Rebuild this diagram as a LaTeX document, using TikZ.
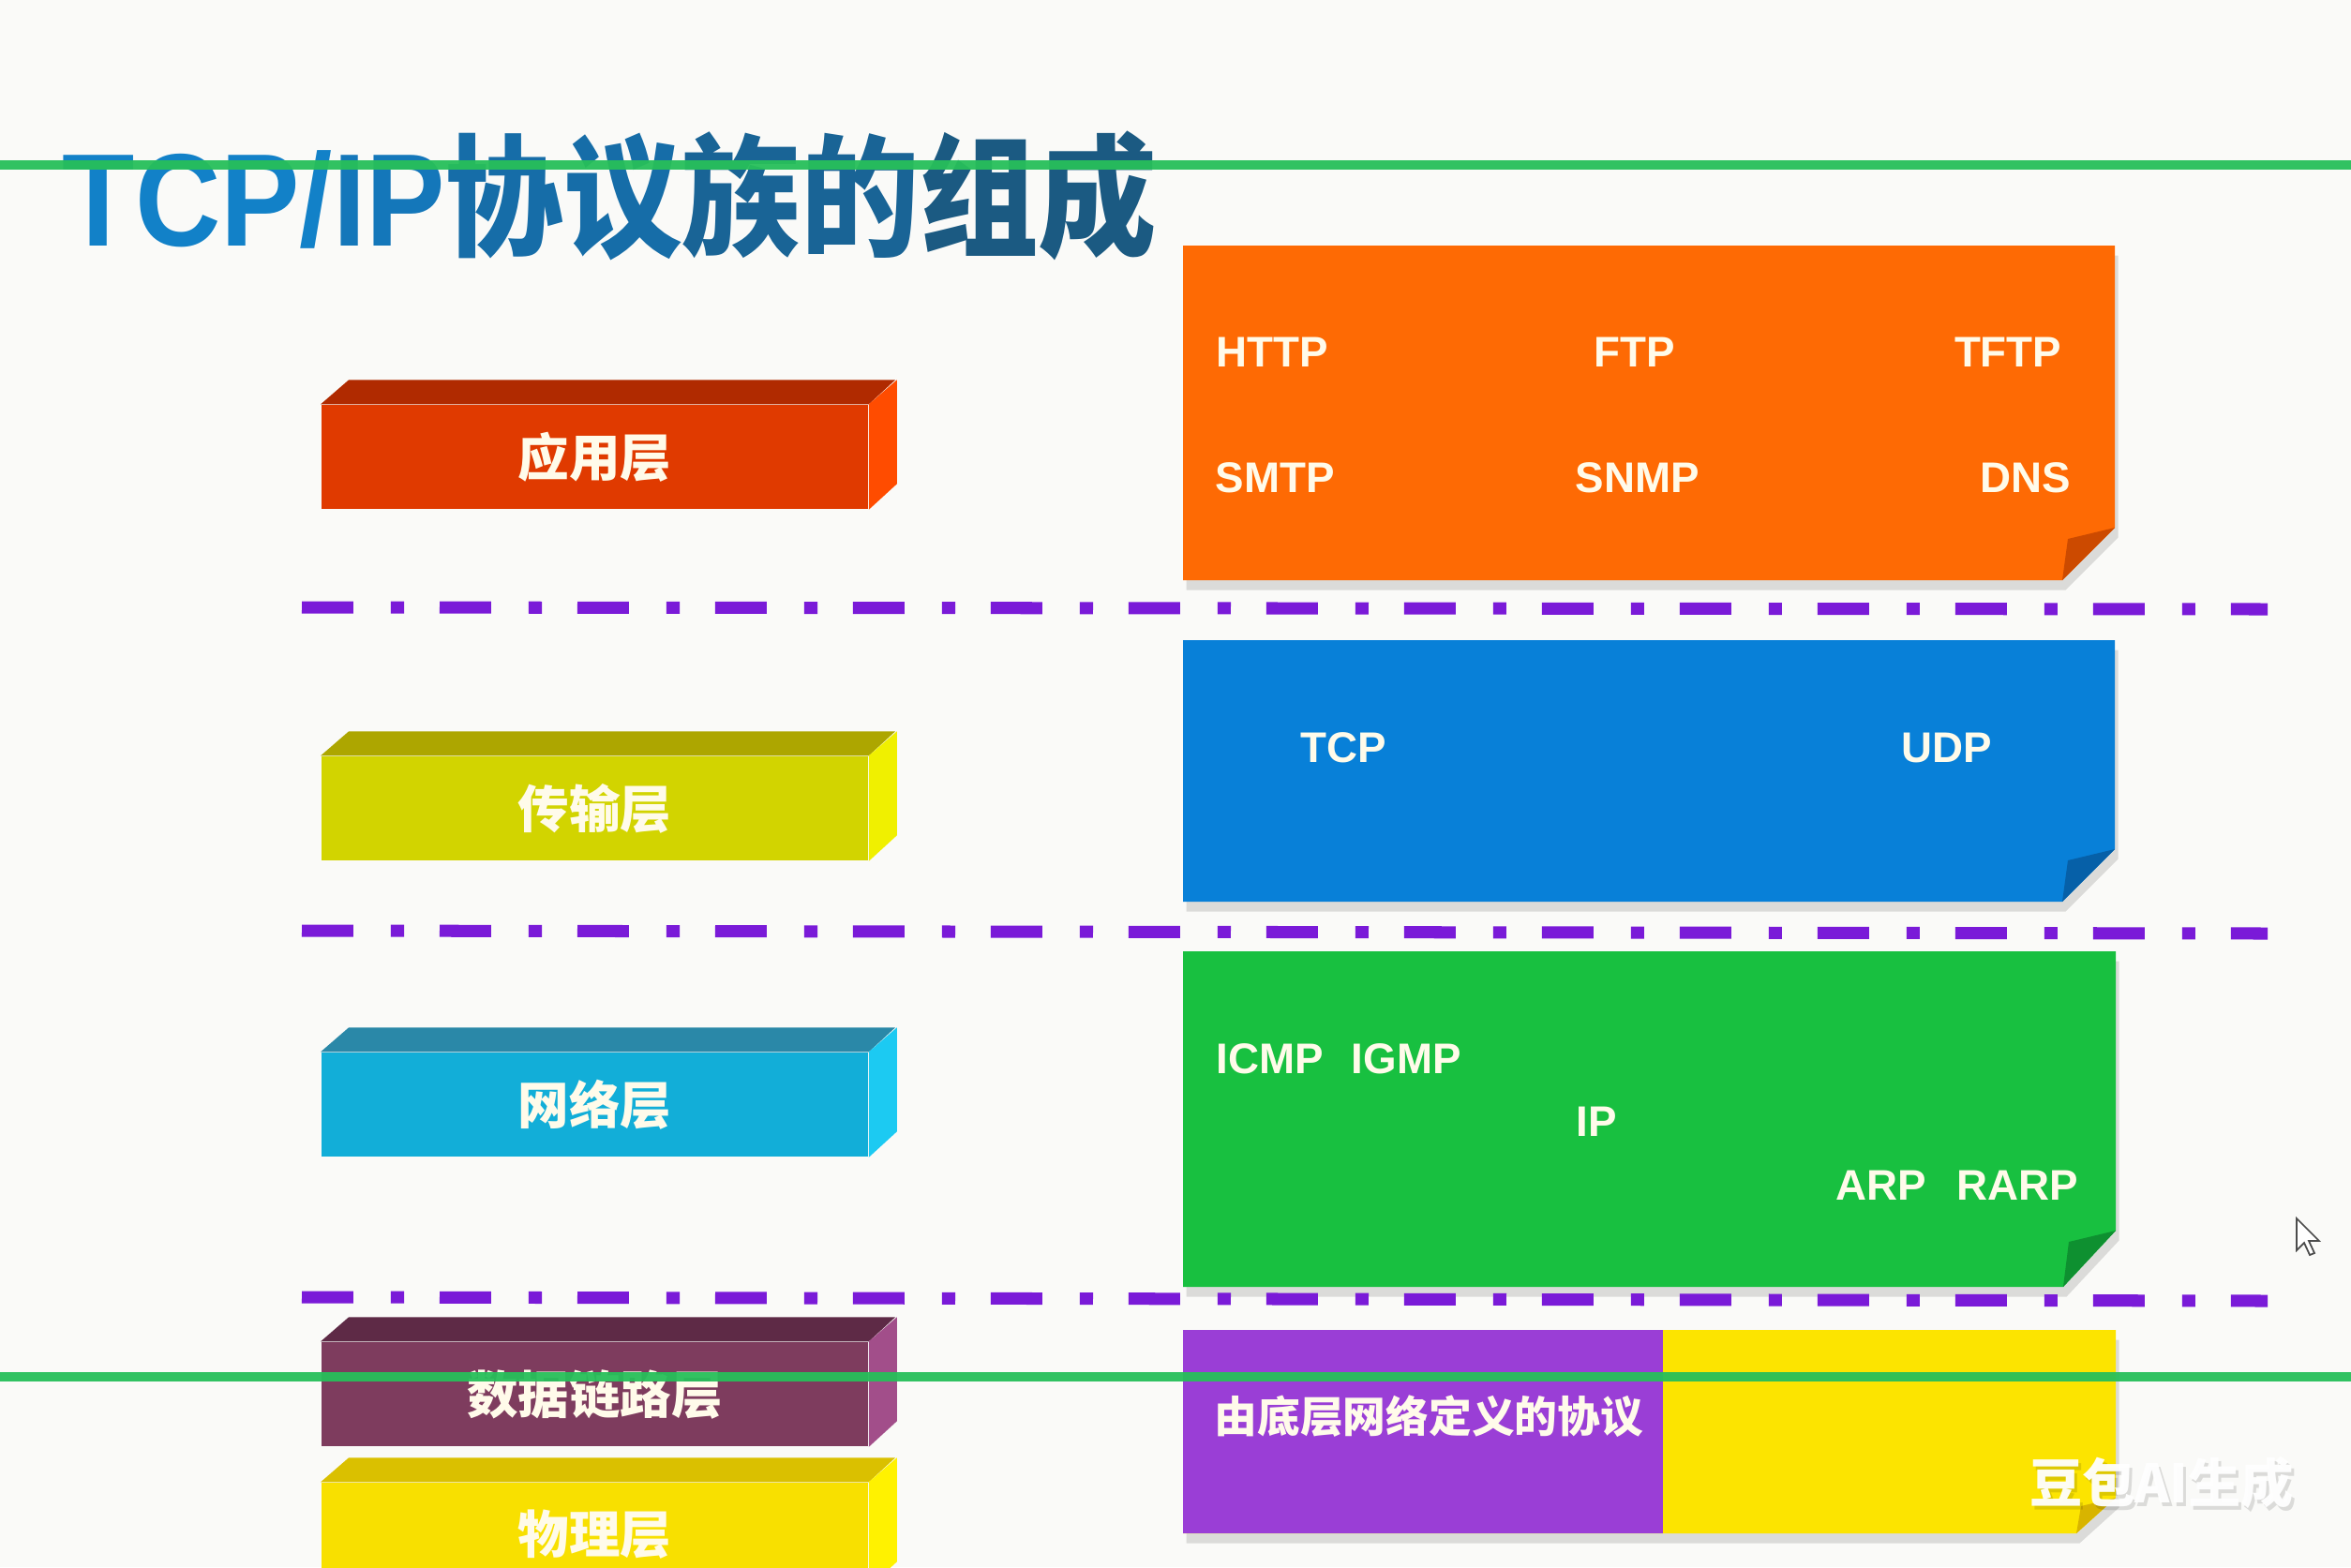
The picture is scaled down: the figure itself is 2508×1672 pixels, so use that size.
\documentclass[tikz,border=0pt]{standalone}
\usepackage{fontspec}
\usepackage{graphicx}
\setmainfont{Liberation Sans}
\newfontfamily\cjk{Noto Sans CJK SC}
\usepackage{tikz}
\usetikzlibrary{positioning, shadows}
\usepackage{xcolor}

\definecolor{paper}{HTML}{FAFAF8}
\definecolor{labelwhite}{HTML}{FFFBEA}
\definecolor{seppurple}{HTML}{7A1AD8}
\definecolor{marker}{HTML}{27BF5A}
% left blocks: front / top / side
\definecolor{appfront}{HTML}{E03A00}
\definecolor{apptop}{HTML}{B02A00}
\definecolor{appside}{HTML}{FF4C00}
\definecolor{trafront}{HTML}{D2D400}
\definecolor{tratop}{HTML}{ADA600}
\definecolor{traside}{HTML}{F0F000}
\definecolor{netfront}{HTML}{12AED8}
\definecolor{nettop}{HTML}{2A88A8}
\definecolor{netside}{HTML}{1CCAF2}
\definecolor{linkfront}{HTML}{7E3C5E}
\definecolor{linktop}{HTML}{5E2A46}
\definecolor{linkside}{HTML}{A24E8A}
\definecolor{phyfront}{HTML}{F8E000}
\definecolor{phytop}{HTML}{DAC000}
\definecolor{physide}{HTML}{FFF200}
% right panels
\definecolor{apppanel}{HTML}{FE6A04}
\definecolor{appfold}{HTML}{CC4A00}
\definecolor{trapanel}{HTML}{0880D8}
\definecolor{trafold}{HTML}{0660A8}
\definecolor{netpanel}{HTML}{18C040}
\definecolor{netfold}{HTML}{0E9030}
\definecolor{linkpanel}{HTML}{9A3ED6}
\definecolor{phypanel}{HTML}{FCE400}
\definecolor{phyfold}{HTML}{D8B400}

\begin{document}
\begin{tikzpicture}[x=0.01cm, y=-0.01cm,
    layer/.style={minimum width=5.83cm, minimum height=1.11cm, inner sep=0pt, text=labelwhite, font=\cjk\bfseries\fontsize{15.5}{16}\selectfont},
    proto/.style={inner sep=0pt, text=labelwhite, font=\bfseries\fontsize{13}{14}\selectfont},
    sep/.style={draw=seppurple, line width=3.7pt, dash pattern=on 15.6pt off 11.4pt on 4pt off 10.8pt},
    panel/.style={drop shadow={shadow xshift=1pt, shadow yshift=-3pt, opacity=0.12, fill=black}},
    greenrule/.style={draw=marker, line width=2.85pt, opacity=0.95},
    markfont/.style={font=\cjk\bfseries\fontsize{16}{17}\selectfont}]
      \fill[paper] (0,0) rectangle (2508,1672);
      \clip (0,0) rectangle (2508,1672);

      % Title
      \node[anchor=base west, inner sep=0pt, font=\bfseries\fontsize{40}{42}\selectfont] (title) at (66,262)
        {\scalebox{0.9}[1]{\textcolor[HTML]{1281C8}{TCP/}\textcolor[HTML]{1477BA}{IP}{\cjk\bfseries\textcolor[HTML]{166DA8}{协议}\textcolor[HTML]{196496}{族的}\textcolor[HTML]{1B5A82}{组成}}}};

      % Left blocks (front face is the node)
      \node[layer, fill=appfront] (app) at (634.5,487.5) {应用层};
      \fill[apptop] (app.north west) -- ++(30,-26) -- ++(583,0) -- (app.north east) -- cycle;
      \fill[appside] (app.north east) -- ++(30,-26) -- ++(0,111) -- (app.south east) -- cycle;

      \node[layer, fill=trafront] (tra) at (634.5,862.5) {传输层};
      \fill[tratop] (tra.north west) -- ++(30,-26) -- ++(583,0) -- (tra.north east) -- cycle;
      \fill[traside] (tra.north east) -- ++(30,-26) -- ++(0,111) -- (tra.south east) -- cycle;

      \node[layer, fill=netfront] (net) at (634.5,1178.5) {网络层};
      \fill[nettop] (net.north west) -- ++(30,-26) -- ++(583,0) -- (net.north east) -- cycle;
      \fill[netside] (net.north east) -- ++(30,-26) -- ++(0,111) -- (net.south east) -- cycle;

      \node[layer, fill=linkfront] (link) at (634.5,1487.5) {数据链路层};
      \fill[linktop] (link.north west) -- ++(30,-26) -- ++(583,0) -- (link.north east) -- cycle;
      \fill[linkside] (link.north east) -- ++(30,-26) -- ++(0,111) -- (link.south east) -- cycle;

      \node[layer, fill=phyfront] (phy) at (634.5,1637.5) {物理层};
      \fill[phytop] (phy.north west) -- ++(30,-26) -- ++(583,0) -- (phy.north east) -- cycle;
      \fill[physide] (phy.north east) -- ++(30,-26) -- ++(0,111) -- (phy.south east) -- cycle;

      % Right panels
      \fill[apppanel, panel] (1262,262) -- (2256,262) -- (2256,563) -- (2200,619) -- (1262,619) -- cycle;
      \fill[appfold] (2256,563) -- (2206,575) -- (2200,619) -- cycle;

      \fill[trapanel, panel] (1262,683) -- (2256,683) -- (2256,906) -- (2200,962) -- (1262,962) -- cycle;
      \fill[trafold] (2256,906) -- (2206,918) -- (2200,962) -- cycle;

      \fill[netpanel, panel] (1262,1015) -- (2257,1015) -- (2257,1313) -- (2201,1373) -- (1262,1373) -- cycle;
      \fill[netfold] (2257,1313) -- (2207,1325) -- (2201,1373) -- cycle;

      \fill[phypanel, panel] (1262,1419) -- (2257,1419) -- (2257,1598) -- (2215,1636) -- (1262,1636) -- cycle;
      \fill[linkpanel] (1262,1419) rectangle (1774,1636);
      \fill[phyfold] (2257,1598) -- (2220,1607) -- (2215,1636) -- cycle;

      % Protocol names
      \node[proto, anchor=west] (http) at (1297,376) {HTTP};
      \node[proto] (ftp) at (1744,376) {FTP};
      \node[proto, anchor=east] (tftp) at (2200,376) {TFTP};
      \node[proto, anchor=west] (smtp) at (1296,510) {SMTP};
      \node[proto] (snmp) at (1747,510) {SNMP};
      \node[proto, anchor=east] (dns) at (2210,510) {DNS};

      \node[proto] (tcp) at (1433,798) {TCP};
      \node[proto] (udp) at (2077,798) {UDP};

      \node[proto, anchor=west] (icmp) at (1297,1130) {ICMP\hspace{8.5pt}IGMP};
      \node[proto] (ip) at (1703,1197) {IP};
      \node[proto, anchor=east] (arp) at (2218,1265) {ARP\hspace{9.4pt}RARP};

      \node[proto, anchor=west, font=\cjk\bfseries\fontsize{13}{14}\selectfont] (lower) at (1295,1511) {由底层网络定义的协议};

      % Separators
      \draw[sep] (322,648) -- (2419,650);
      \draw[sep] (322,993) -- (2419,996);
      \draw[sep] (322,1384) -- (2419,1388);

      % Overlays
      \draw[greenrule] (0,176) -- (2508,176);
      \draw[greenrule] (0,1469) -- (2508,1469);
      \node[markfont, text=black, text opacity=0.12] (markshade) at (2309,1586) {豆包AI生成};
      \node[markfont, text=white, text opacity=0.95] (mark) at (2306,1582) {豆包AI生成};
      \draw[fill=white, draw=black!70, line width=0.5pt] (2450,1300) -- ++(0,34) -- ++(8,-8) -- ++(6,13) -- ++(5,-2) -- ++(-6,-13) -- ++(11,0) -- cycle;
\end{tikzpicture}
\end{document}
